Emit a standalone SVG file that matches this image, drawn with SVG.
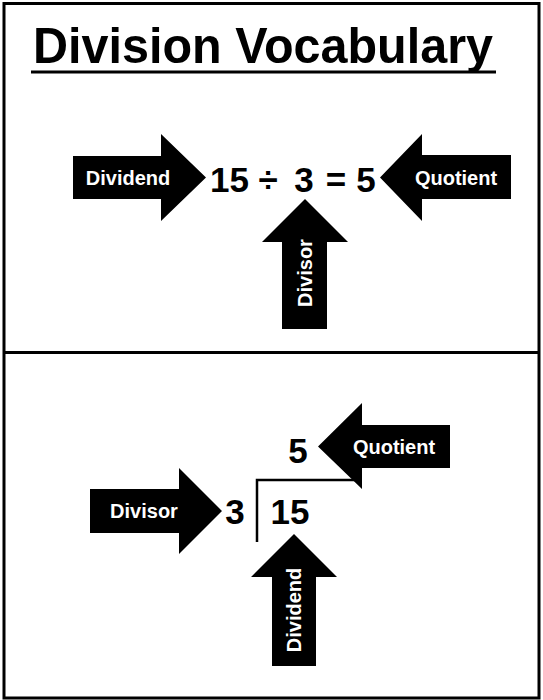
<svg xmlns="http://www.w3.org/2000/svg" width="543" height="700" viewBox="0 0 543 700">
<style>
.lbl{font-family:"Liberation Sans",Arial,sans-serif;font-weight:bold;font-size:20px;fill:#fff;text-anchor:middle}
.num{font-family:"Liberation Sans",Arial,sans-serif;font-weight:bold;font-size:35px;fill:#000;text-anchor:middle}
.arr{fill:#000}
</style>
<rect x="0" y="0" width="543" height="700" fill="#fff"/>
<g id="frame" fill="none" stroke="#000" stroke-width="3">
<rect x="4" y="3.5" width="535" height="694.5"/>
<line x1="4" y1="352.5" x2="539" y2="352.5"/>
</g>
<g id="title">
<text x="263" y="63" font-family="'Liberation Sans',Arial,sans-serif" font-weight="bold" font-size="50" text-anchor="middle" textLength="460" lengthAdjust="spacingAndGlyphs">Division Vocabulary</text>
<line x1="31" y1="72" x2="496" y2="72" stroke="#000" stroke-width="3"/>
</g>
<g id="equation">
<text class="num" y="192"><tspan x="229.5">15</tspan><tspan x="268">÷</tspan><tspan x="304">3</tspan><tspan x="336">=</tspan><tspan x="366">5</tspan></text>
</g>
<g id="top-dividend">
<polygon class="arr" points="73,156 161,156 161,134 206,177.5 161,221 161,199 73,199"/>
<text class="lbl" x="128" y="185">Dividend</text>
</g>
<g id="top-quotient">
<polygon class="arr" points="380,177.5 422,134 422,155 511,155 511,199 422,199 422,221"/>
<text class="lbl" x="456" y="184.5">Quotient</text>
</g>
<g id="top-divisor">
<polygon class="arr" points="305,199 348,242 327,242 327,329 282,329 282,242 262,242"/>
<text class="lbl" transform="translate(305,273) rotate(-90)" x="0" y="7">Divisor</text>
</g>
<g id="long-division">
<path d="M257,542 V480 H360" fill="none" stroke="#000" stroke-width="2.5"/>
<text class="num" y="524"><tspan x="235">3</tspan><tspan x="290">15</tspan></text>
<text class="num" x="298" y="463">5</text>
</g>
<g id="bottom-divisor">
<polygon class="arr" points="90,489 179,489 179,468 222,511 179,554 179,533 90,533"/>
<text class="lbl" x="144" y="518">Divisor</text>
</g>
<g id="bottom-quotient">
<polygon class="arr" points="318,446.5 362,403 362,425 450,425 450,468 362,468 362,489"/>
<text class="lbl" x="394" y="453.5">Quotient</text>
</g>
<g id="bottom-dividend">
<polygon class="arr" points="294,534 337,577 316,577 316,666 272,666 272,577 251,577"/>
<text class="lbl" transform="translate(294,610) rotate(-90)" x="0" y="7">Dividend</text>
</g>
</svg>
